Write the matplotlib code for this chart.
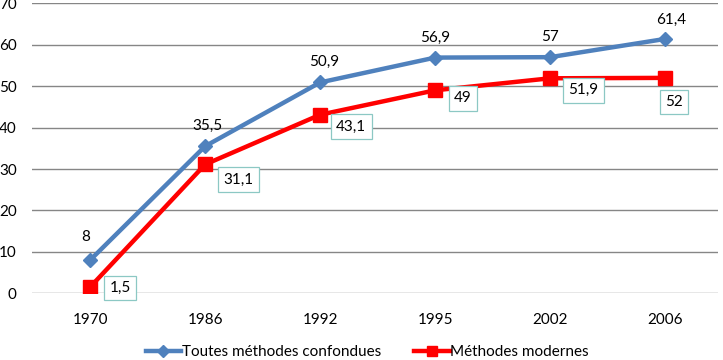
import matplotlib
matplotlib.use('Agg')
import matplotlib.pyplot as plt

years = ['1970', '1986', '1992', '1995', '2002', '2006']
toutes = [8, 35.5, 50.9, 56.9, 57, 61.4]
modernes = [1.5, 31.1, 43.1, 49, 51.9, 52]
toutes_labels = ['8', '35,5', '50,9', '56,9', '57', '61,4']
modernes_labels = ['1,5', '31,1', '43,1', '49', '51,9', '52']

# label offsets in pixels (dx, dy)
blue_off = [(-4, 23), (2, 20), (4, 21), (0, 20), (0, 20), (6, 19)]
red_off = [(30, -1), (33, -15), (31, -12), (28, -8), (33, -12), (9, -24)]

plt.rcParams['font.family'] = ['Lato', 'DejaVu Sans']
fs = 11

fig = plt.figure(figsize=(7.23, 3.6), dpi=100)
ax = fig.add_axes([0.0443, 0.1853, 0.9488, 0.8055])

x = list(range(len(years)))
blue = '#4F81BD'
red = '#FF0000'

ax.plot(x, toutes, color=blue, lw=3.2, marker='D', ms=7.5, mec=blue, mfc=blue,
        label='Toutes méthodes confondues', zorder=3)
ax.plot(x, modernes, color=red, lw=3.2, marker='s', ms=10, mec=red, mfc=red,
        label='Méthodes modernes', zorder=3)

to_pt = 72 / 100
for i, (v, t) in enumerate(zip(toutes, toutes_labels)):
    dx, dy = blue_off[i]
    ax.annotate(t, (i, v), xytext=(dx * to_pt, dy * to_pt), textcoords='offset points',
                ha='center', va='center', fontsize=fs, color='black', zorder=4)
for i, (v, t) in enumerate(zip(modernes, modernes_labels)):
    dx, dy = red_off[i]
    ax.annotate(t, (i, v), xytext=(dx * to_pt, dy * to_pt), textcoords='offset points',
                ha='center', va='center', fontsize=fs, color='black', zorder=4,
                bbox=dict(boxstyle='square,pad=0.35', fc='white', ec='#8CC8C4', lw=0.9))

ax.set_ylim(0, 70)
ax.set_yticks(range(0, 71, 10))
ax.set_xlim(-0.505, 5.46)
ax.set_xticks(x)
ax.set_xticklabels(years)
ax.tick_params(axis='both', length=0, labelsize=fs)
ax.tick_params(axis='x', pad=14)
ax.tick_params(axis='y', pad=11)
ax.grid(axis='y', color='#868686', lw=1)
ax.set_axisbelow(True)
for s in ax.spines.values():
    s.set_visible(False)

fig.legend(loc='center', bbox_to_anchor=(0.508, 0.022), ncol=2, frameon=False,
           fontsize=fs, handlelength=2.3, handletextpad=0.05, columnspacing=2.2,
           markerscale=0.75)

fig.savefig('out.png', dpi=100)
